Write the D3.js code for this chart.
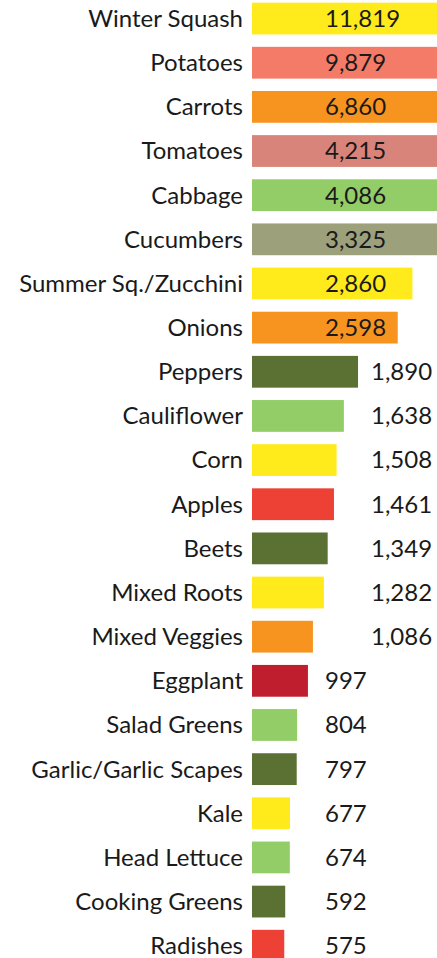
<!DOCTYPE html>
<html>
<head>
<meta charset="utf-8">
<script src="https://cdn.jsdelivr.net/npm/d3@7"></script>
<style>
  body { margin: 0; background: #fff; }
  svg { display: block; }
  text { font-family: Lato, "Open Sans", sans-serif; fill: #1a1a1a; }
</style>
</head>
<body>
<svg width="437" height="958"></svg>
<script>
// crops from a bigger excel chart, big bars run off the right edge
let crops = ["Winter Squash", "Potatoes", "Carrots", "Tomatoes", "Cabbage", "Cucumbers",
  "Summer Sq./Zucchini", "Onions", "Peppers", "Cauliflower", "Corn", "Apples", "Beets",
  "Mixed Roots", "Mixed Veggies", "Eggplant", "Salad Greens", "Garlic/Garlic Scapes",
  "Kale", "Head Lettuce", "Cooking Greens", "Radishes"];
let pounds = [11819, 9879, 6860, 4215, 4086, 3325, 2860, 2598, 1890, 1638, 1508, 1461,
  1349, 1282, 1086, 997, 804, 797, 677, 674, 592, 575];
let barColors = ["#FFEB1C", "#F47B67", "#F7941F", "#D9847A", "#92CD68", "#9DA17B",
  "#FFEB1C", "#F7941F", "#5B7134", "#92CD68", "#FFEB1C", "#EE4136", "#5B7134",
  "#FFEB1C", "#F7941F", "#BE1E2D", "#92CD68", "#5B7134", "#FFEB1C", "#92CD68",
  "#5B7134", "#EE4136"];

function drawChart() {
    var svg = d3.select("svg"),
        left = 252,
        step = 44.15;

    var x = d3.scaleLinear()
        .domain([0, 12000])
        .range([left, left + 12000 * 0.0561]);

    var y = d3.scaleBand()
        .domain(crops)
        .range([-3.5, -3.5 + crops.length * step])
        .paddingInner(0.28)
        .paddingOuter(0.14);

    var fmt = d3.format(",");

    var rows = svg.selectAll("g.row")
        .data(crops)
        .enter()
        .append("g")
        .attr("class", "row");

    // bars
    rows.append("rect")
        .attr("x", x(0))
        .attr("y", d => y(d))
        .attr("width", (d, i) => x(pounds[i]) - x(0))
        .attr("height", y.bandwidth())
        .attr("fill", (d, i) => barColors[i]);

    // category names
    rows.append("text")
        .attr("x", x(0) - 9)
        .attr("y", d => y(d) + y.bandwidth() / 2)
        .attr("dy", "0.35em")
        .attr("text-anchor", "end")
        .style("font-size", "24px")
        .text(d => d);

    // value labels, 1,000-2,000 sit in a column further right
    rows.append("text")
        .attr("x", (d, i) => (pounds[i] >= 1000 && pounds[i] < 2000) ? 371 : 325)
        .attr("y", d => y(d) + y.bandwidth() / 2)
        .attr("dy", "0.35em")
        .style("font-size", "24px")
        .text((d, i) => fmt(pounds[i]));
}

drawChart();
</script>
</body>
</html>
